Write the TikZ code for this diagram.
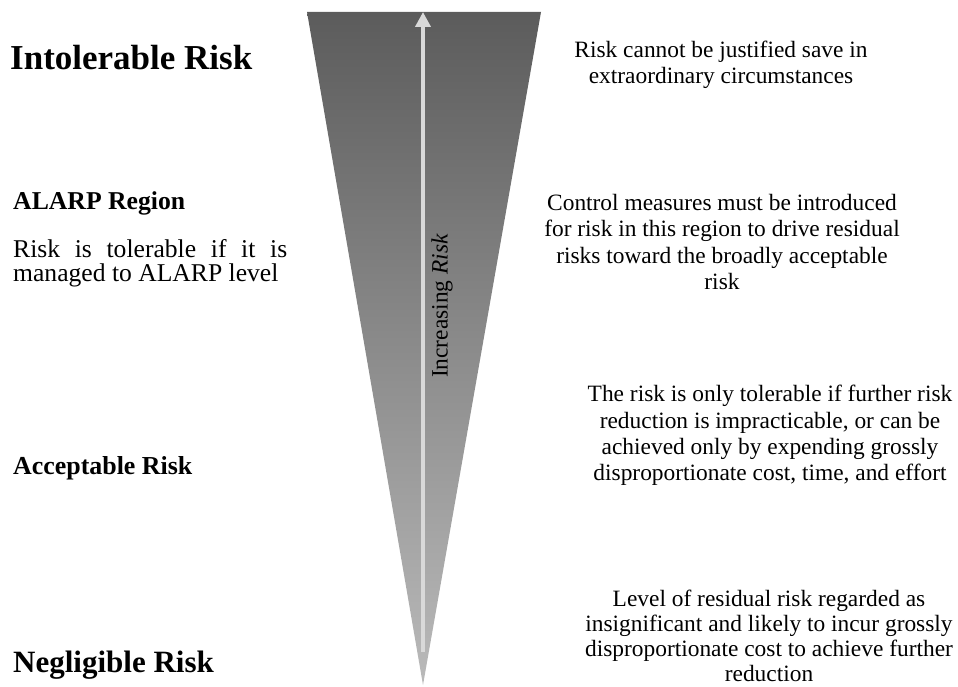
\documentclass[tikz,border=0pt]{standalone}
\usepackage{fontspec}
\setmainfont{Liberation Serif}
\usetikzlibrary{arrows.meta, positioning}

\tikzset{
  note/.style={align=center, inner sep=0pt, font=\fontsize{23.4}{26.3}\selectfont},
  levelname/.style={anchor=west, inner sep=0pt, font=\bfseries\fontsize{#1}{#1}\selectfont},
}

\begin{document}
\begin{tikzpicture}[x=1pt, y=1pt]
\useasboundingbox (0,0) rectangle (958,686);

\shade[top color=black!64, bottom color=black!27] (307,674) -- (541,674) -- (423,1) -- cycle;

\coordinate (tail) at (423,34);
\coordinate (tip) at (423,674);
\draw[line width=4pt, black!15, -{Triangle[length=15pt, width=15pt]}] (tail) -- (tip);

\node[rotate=90, inner sep=0pt, font=\fontsize{23.4}{26}\selectfont] (axis) at (442,380) {Increasing \textit{Risk}};

\node[levelname=35] (intol) at (10,628) {Intolerable Risk};
\node[levelname=25.7] (alarp) at (13,483) {ALARP Region};
\node[anchor=west, inner sep=0pt, align=left, font=\fontsize{25.6}{23.5}\selectfont] (alarptext) at (13,422.5)
  {\makebox[274pt][s]{Risk is tolerable if it is}\\managed to ALARP level};
\node[levelname=25.9] (accept) at (13,218) {Acceptable Risk};
\node[levelname=31] (neglig) at (13,21) {Negligible Risk};

\node[note] (intolnote) at (721,621.5) {Risk cannot be justified save in\\extraordinary circumstances};
\node[note] (alarpnote) at (722,444) {Control measures must be introduced\\for risk in this region to drive residual\\risks toward the broadly acceptable\\risk};
\node[note] (acceptnote) at (770,250.5) {The risk is only tolerable if further risk\\reduction is impracticable, or can be\\achieved only by expending grossly\\disproportionate cost, time, and effort};
\node[note, font=\fontsize{23.4}{25}\selectfont] (neglignote) at (769,50) {Level of residual risk regarded as\\insignificant and likely to incur grossly\\disproportionate cost to achieve further\\reduction};
\end{tikzpicture}
\end{document}
